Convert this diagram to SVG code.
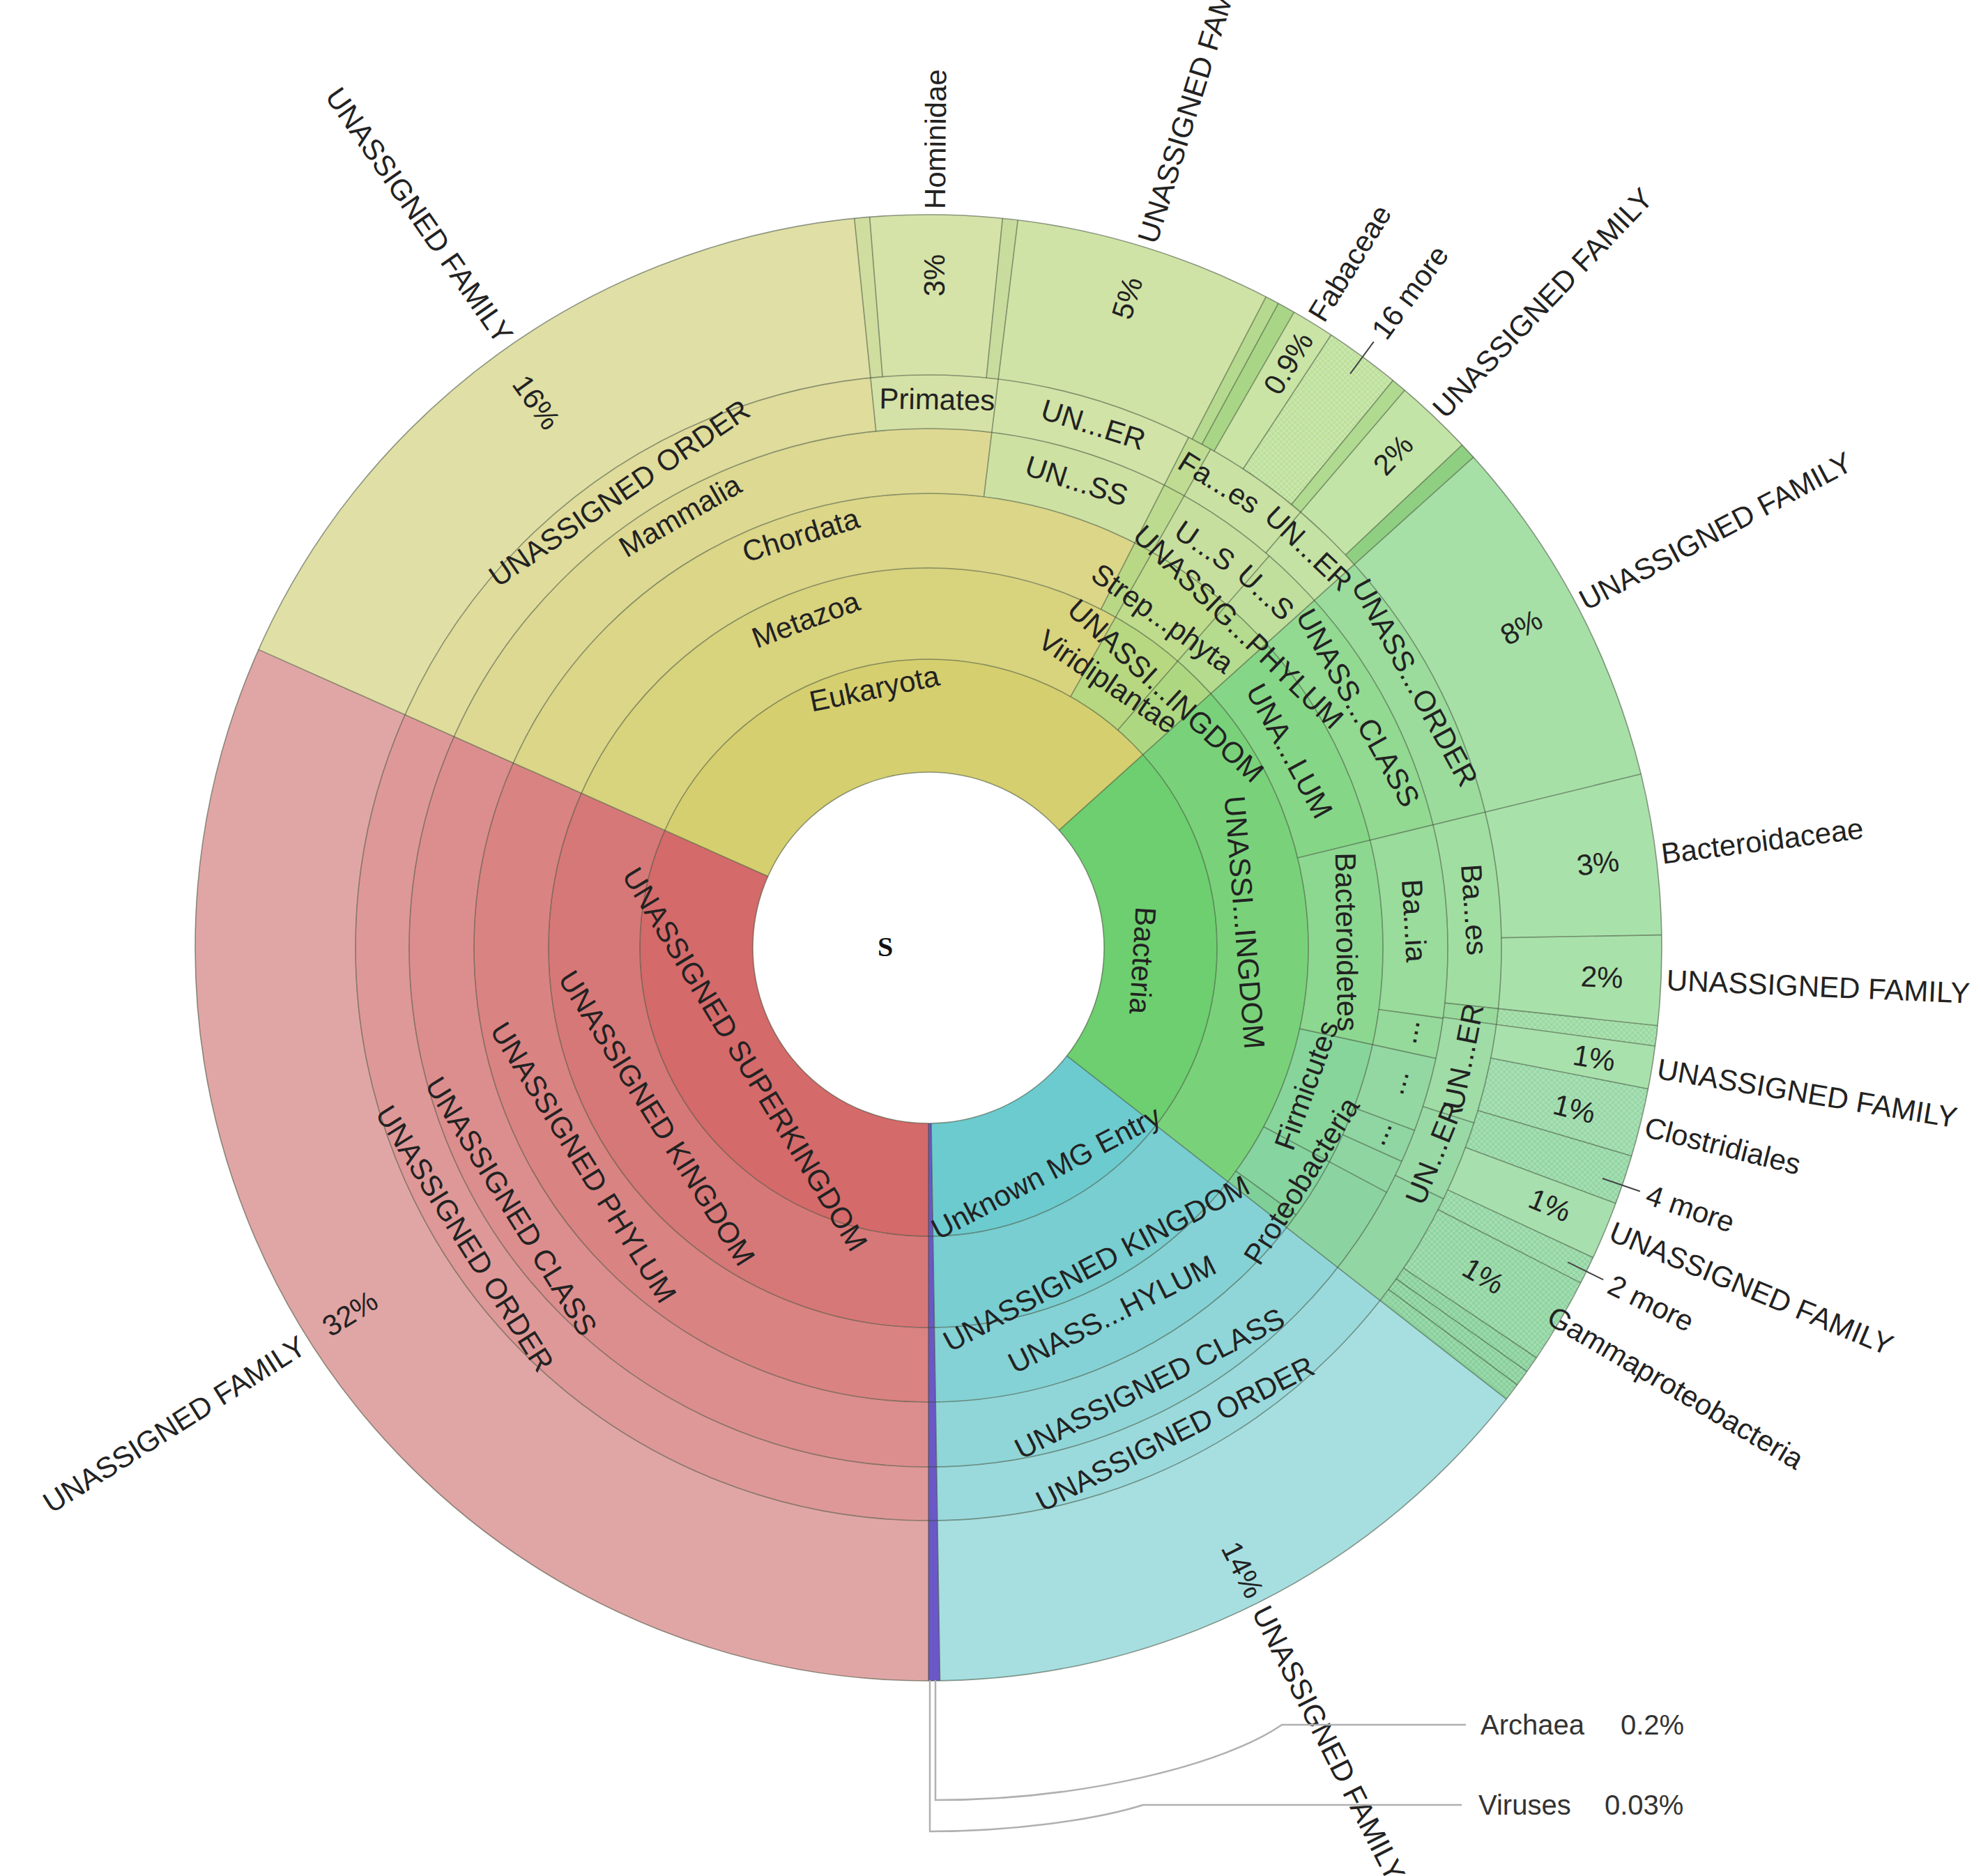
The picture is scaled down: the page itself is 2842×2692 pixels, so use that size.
<svg xmlns="http://www.w3.org/2000/svg" width="2842" height="2692" viewBox="0 0 2842 2692">
<defs>
<style>
.w{fill:none}
.rl{stroke:#3d4a35;stroke-opacity:.55;stroke-width:1.6;fill:none}
.t{font-family:"Liberation Sans",Arial,sans-serif;font-size:42px;fill:#222;text-anchor:middle;dominant-baseline:central}
.o{font-family:"Liberation Sans",Arial,sans-serif;font-size:42px;fill:#222;dominant-baseline:central}
.s{text-anchor:start}
.e{text-anchor:end}
.tick{stroke:#444;stroke-width:2}
.co{fill:none;stroke:#b0b0b0;stroke-width:2.5}
</style>
<pattern id="hatch" width="8" height="8" patternUnits="userSpaceOnUse">
<rect width="4" height="4" fill="#ffffff" fill-opacity="0.18"/>
<rect x="4" y="4" width="4" height="4" fill="#ffffff" fill-opacity="0.18"/>
</pattern>
</defs>
<rect width="2842" height="2692" fill="#ffffff"/>
<g transform="translate(1332,1360)">
<g id="wedges" transform="rotate(-90)">
<!-- ring1 -->
<g id="ring1" stroke-width="162">
<circle class="w" r="333" pathLength="360" stroke="#d46a6a" stroke-dasharray="114 246" stroke-dashoffset="-180"/>
<circle class="w" r="333" pathLength="360" stroke="#d5cf6f" stroke-dasharray="114 246" stroke-dashoffset="-294"/>
<circle class="w" r="333" pathLength="360" stroke="#6dcf6f" stroke-dasharray="80 280" stroke-dashoffset="-48"/>
<circle class="w" r="333" pathLength="360" stroke="#6ccbcf" stroke-dasharray="51.1 308.9" stroke-dashoffset="-128"/>
</g>
<g id="ring2" stroke-width="131">
<circle class="w" r="479.5" pathLength="360" stroke="#d77878" stroke-dasharray="114 246" stroke-dashoffset="-180"/>
<circle class="w" r="479.5" pathLength="360" stroke="#d8d37d" stroke-dasharray="95.5 264.5" stroke-dashoffset="-294"/>
<circle class="w" r="479.5" pathLength="360" stroke="#b7d880" stroke-dasharray="11.5 348.5" stroke-dashoffset="-29.5"/>
<circle class="w" r="479.5" pathLength="360" stroke="#aed781" stroke-dasharray="7 353" stroke-dashoffset="-41"/>
<circle class="w" r="479.5" pathLength="360" stroke="#79d27a" stroke-dasharray="80 280" stroke-dashoffset="-48"/>
<circle class="w" r="479.5" pathLength="360" stroke="#78ced1" stroke-dasharray="51.1 308.9" stroke-dashoffset="-128"/>
</g>
<g id="ring3" stroke-width="107">
<circle class="w" r="598.5" pathLength="360" stroke="#da8383" stroke-dasharray="114 246" stroke-dashoffset="-180"/>
<circle class="w" r="598.5" pathLength="360" stroke="#dbd688" stroke-dasharray="93 267" stroke-dashoffset="-294"/>
<circle class="w" r="598.5" pathLength="360" stroke="#b9d886" stroke-dasharray="2.5 357.5" stroke-dashoffset="-27"/>
<circle class="w" r="598.5" pathLength="360" stroke="#bfdc8d" stroke-dasharray="11.5 348.5" stroke-dashoffset="-29.5"/>
<circle class="w" r="598.5" pathLength="360" stroke="#b5db8e" stroke-dasharray="7 353" stroke-dashoffset="-41"/>
<circle class="w" r="598.5" pathLength="360" stroke="#86d687" stroke-dasharray="28.3 331.7" stroke-dashoffset="-48"/>
<circle class="w" r="598.5" pathLength="360" stroke="#8dd890" stroke-dasharray="26 334" stroke-dashoffset="-76.3"/>
<circle class="w" r="598.5" pathLength="360" stroke="#87d59b" stroke-dasharray="15.8 344.2" stroke-dashoffset="-102.3"/>
<circle class="w" r="598.5" pathLength="360" stroke="#86d4a0" stroke-dasharray="7.9 352.1" stroke-dashoffset="-118.1"/>
<circle class="w" r="598.5" pathLength="360" stroke="#7fcf98" stroke-dasharray="2 358" stroke-dashoffset="-126"/>
<circle class="w" r="598.5" pathLength="360" stroke="#84d2d5" stroke-dasharray="51.1 308.9" stroke-dashoffset="-128"/>
</g>
<g id="ring4" stroke-width="93">
<circle class="w" r="698.5" pathLength="360" stroke="#dc8e8e" stroke-dasharray="114 246" stroke-dashoffset="-180"/>
<circle class="w" r="698.5" pathLength="360" stroke="#ddd993" stroke-dasharray="73 287" stroke-dashoffset="-294"/>
<circle class="w" r="698.5" pathLength="360" stroke="#cde1a3" stroke-dasharray="20 340" stroke-dashoffset="-7"/>
<circle class="w" r="698.5" pathLength="360" stroke="#bcdb8e" stroke-dasharray="2.5 357.5" stroke-dashoffset="-27"/>
<circle class="w" r="698.5" pathLength="360" stroke="#c7df9e" stroke-dasharray="11.5 348.5" stroke-dashoffset="-29.5"/>
<circle class="w" r="698.5" pathLength="360" stroke="#c0df9d" stroke-dasharray="7 353" stroke-dashoffset="-41"/>
<circle class="w" r="698.5" pathLength="360" stroke="#92d992" stroke-dasharray="28.3 331.7" stroke-dashoffset="-48"/>
<circle class="w" r="698.5" pathLength="360" stroke="#99dc9b" stroke-dasharray="21.5 338.5" stroke-dashoffset="-76.3"/>
<circle class="w" r="698.5" pathLength="360" stroke="#95d99b" stroke-dasharray="4.5 355.5" stroke-dashoffset="-97.8"/>
<circle class="w" r="698.5" pathLength="360" stroke="#93d8a3" stroke-dasharray="8.3 351.7" stroke-dashoffset="-102.3"/>
<circle class="w" r="698.5" pathLength="360" stroke="#90d6a2" stroke-dasharray="3.7 356.3" stroke-dashoffset="-110.6"/>
<circle class="w" r="698.5" pathLength="360" stroke="#8ed5a2" stroke-dasharray="3.8 356.2" stroke-dashoffset="-114.3"/>
<circle class="w" r="698.5" pathLength="360" stroke="#8bd4a1" stroke-dasharray="9.9 350.1" stroke-dashoffset="-118.1"/>
<circle class="w" r="698.5" pathLength="360" stroke="#90d6d9" stroke-dasharray="51.1 308.9" stroke-dashoffset="-128"/>
</g>
<g id="ring5" stroke-width="77">
<circle class="w" r="783.5" pathLength="360" stroke="#de9898" stroke-dasharray="114 246" stroke-dashoffset="-180"/>
<circle class="w" r="783.5" pathLength="360" stroke="#dfdc9c" stroke-dasharray="60.2 299.8" stroke-dashoffset="-294"/>
<circle class="w" r="783.5" pathLength="360" stroke="#d4e2a7" stroke-dasharray="12.8 347.2" stroke-dashoffset="-354.2"/>
<circle class="w" r="783.5" pathLength="360" stroke="#d1e3a7" stroke-dasharray="20 340" stroke-dashoffset="-7"/>
<circle class="w" r="783.5" pathLength="360" stroke="#bfdc92" stroke-dasharray="2.5 357.5" stroke-dashoffset="-27"/>
<circle class="w" r="783.5" pathLength="360" stroke="#c9e2a3" stroke-dasharray="11 349" stroke-dashoffset="-29.5"/>
<circle class="w" r="783.5" pathLength="360" stroke="#c4e2a4" stroke-dasharray="7.5 352.5" stroke-dashoffset="-40.5"/>
<circle class="w" r="783.5" pathLength="360" stroke="#9bdc9c" stroke-dasharray="28.3 331.7" stroke-dashoffset="-48"/>
<circle class="w" r="783.5" pathLength="360" stroke="#a1dea2" stroke-dasharray="19.8 340.2" stroke-dashoffset="-76.3"/>
<circle class="w" r="783.5" pathLength="360" stroke="#98d99c" stroke-dasharray="1.6 358.4" stroke-dashoffset="-96.1"/>
<circle class="w" r="783.5" pathLength="360" stroke="#9fdca6" stroke-dasharray="10.1 349.9" stroke-dashoffset="-97.7"/>
<circle class="w" r="783.5" pathLength="360" stroke="#99d9a6" stroke-dasharray="8.2 351.8" stroke-dashoffset="-107.8"/>
<circle class="w" r="783.5" pathLength="360" stroke="#92d6a3" stroke-dasharray="12 348" stroke-dashoffset="-116"/>
<circle class="w" r="783.5" pathLength="360" stroke="#9adadc" stroke-dasharray="51.1 308.9" stroke-dashoffset="-128"/>
</g>
<g id="ring6" stroke-width="230">
<circle class="w" r="937" pathLength="360" stroke="#e0a6a6" stroke-dasharray="114 246" stroke-dashoffset="-180"/>
<circle class="w" r="937" pathLength="360" stroke="#e0dfa6" stroke-dasharray="60.2 299.8" stroke-dashoffset="-294"/>
<circle class="w" r="937" pathLength="360" stroke="#cfdd9f" stroke-dasharray="1.2 358.8" stroke-dashoffset="-354.2"/>
<circle class="w" r="937" pathLength="360" stroke="#d5e3a9" stroke-dasharray="10.4 349.6" stroke-dashoffset="-355.4"/>
<circle class="w" r="937" pathLength="360" stroke="#c8dc9e" stroke-dasharray="1.2 358.8" stroke-dashoffset="-5.8"/>
<circle class="w" r="937" pathLength="360" stroke="#d0e3a6" stroke-dasharray="20.4 339.6" stroke-dashoffset="-7"/>
<circle class="w" r="937" pathLength="360" stroke="#b5da8f" stroke-dasharray="1.1 358.9" stroke-dashoffset="-27.4"/>
<circle class="w" r="937" pathLength="360" stroke="#a8d686" stroke-dasharray="1.4 358.6" stroke-dashoffset="-28.5"/>
<circle class="w" r="937" pathLength="360" stroke="#cae4a6" stroke-dasharray="3.4 356.6" stroke-dashoffset="-29.9"/>
<circle class="w" r="937" pathLength="360" stroke="#bde09b" stroke-dasharray="6 354" stroke-dashoffset="-33.3"/>
<circle class="w" r="937" pathLength="360" stroke="#afda90" stroke-dasharray="1.2 358.8" stroke-dashoffset="-39.3"/>
<circle class="w" r="937" pathLength="360" stroke="#c3e4a7" stroke-dasharray="6.2 353.8" stroke-dashoffset="-40.5"/>
<circle class="w" r="937" pathLength="360" stroke="#8fcf82" stroke-dasharray="1.3 358.7" stroke-dashoffset="-46.7"/>
<circle class="w" r="937" pathLength="360" stroke="#a6e0a7" stroke-dasharray="28.3 331.7" stroke-dashoffset="-48"/>
<circle class="w" r="937" pathLength="360" stroke="#a9e1aa" stroke-dasharray="12.7 347.3" stroke-dashoffset="-76.3"/>
<circle class="w" r="937" pathLength="360" stroke="#a9e1ab" stroke-dasharray="7.1 352.9" stroke-dashoffset="-89"/>
<circle class="w" r="937" pathLength="360" stroke="#9ad9a0" stroke-dasharray="1.6 358.4" stroke-dashoffset="-96.1"/>
<circle class="w" r="937" pathLength="360" stroke="#a9e1ad" stroke-dasharray="3.4 356.6" stroke-dashoffset="-97.7"/>
<circle class="w" r="937" pathLength="360" stroke="#97d8a6" stroke-dasharray="5.4 354.6" stroke-dashoffset="-101.1"/>
<circle class="w" r="937" pathLength="360" stroke="#93d6a3" stroke-dasharray="3.9 356.1" stroke-dashoffset="-106.5"/>
<circle class="w" r="937" pathLength="360" stroke="#a7e0ae" stroke-dasharray="4.6 355.4" stroke-dashoffset="-110.4"/>
<circle class="w" r="937" pathLength="360" stroke="#92d5a2" stroke-dasharray="2.2 357.8" stroke-dashoffset="-115"/>
<circle class="w" r="937" pathLength="360" stroke="#8fd4a0" stroke-dasharray="6.8 353.2" stroke-dashoffset="-117.2"/>
<circle class="w" r="937" pathLength="360" stroke="#88d09b" stroke-dasharray="4 356" stroke-dashoffset="-124"/>
<circle class="w" r="937" pathLength="360" stroke="#a7dfe1" stroke-dasharray="51.1 308.9" stroke-dashoffset="-128"/>
</g>
<g id="hatched" stroke="url(#hatch)" stroke-width="230">
<circle class="w" r="937" pathLength="360" stroke-dasharray="6 354" stroke-dashoffset="-33.3"/>
<circle class="w" r="937" pathLength="360" stroke-dasharray="1.6 358.4" stroke-dashoffset="-96.1"/>
<circle class="w" r="937" pathLength="360" stroke-dasharray="9.3 350.7" stroke-dashoffset="-101.1"/>
<circle class="w" r="937" pathLength="360" stroke-dasharray="12.8 347.2" stroke-dashoffset="-115"/>
</g>
<g id="archaea-viruses">
<circle class="w" r="652" pathLength="360" stroke="#6a58c8" stroke-width="800" stroke-dasharray="0.9 359.1" stroke-dashoffset="-179.1"/>
</g>
</g>
<g id="connectors">
<g id="rings">
<circle class="rl" r="252"/><circle class="rl" r="414"/><circle class="rl" r="545"/><circle class="rl" r="652"/><circle class="rl" r="745"/><circle class="rl" r="822"/><circle class="rl" r="1052" stroke="#999"/>
</g>
<g id="radials" class="rl">
<line y1="-252" y2="-1052" transform="rotate(48)"/>
<line y1="-252" y2="-1052" transform="rotate(128)"/>
<line y1="-252" y2="-1052" transform="rotate(180)"/>
<line y1="-252" y2="-1052" transform="rotate(179.1)"/>
<line y1="-252" y2="-1052" transform="rotate(294)"/>
<line y1="-414" y2="-822" transform="rotate(29.5)"/>
<line y1="-414" y2="-745" transform="rotate(41)"/>
<line y1="-745" y2="-1052" transform="rotate(40.5)"/>
<line y1="-545" y2="-822" transform="rotate(27)"/>
<line y1="-822" y2="-1052" transform="rotate(27.4)"/>
<line y1="-822" y2="-1052" transform="rotate(28.5)"/>
<line y1="-822" y2="-1052" transform="rotate(29.9)"/>
<line y1="-822" y2="-1052" transform="rotate(33.3)"/>
<line y1="-822" y2="-1052" transform="rotate(39.3)"/>
<line y1="-822" y2="-1052" transform="rotate(46.7)"/>
<line y1="-652" y2="-1052" transform="rotate(7)"/>
<line y1="-745" y2="-1052" transform="rotate(354.2)"/>
<line y1="-822" y2="-1052" transform="rotate(355.4)"/>
<line y1="-822" y2="-1052" transform="rotate(5.8)"/>
<line y1="-545" y2="-1052" transform="rotate(76.3)"/>
<line y1="-545" y2="-745" transform="rotate(102.3)"/>
<line y1="-545" y2="-745" transform="rotate(118.1)"/>
<line y1="-545" y2="-652" transform="rotate(126)"/>
<line y1="-652" y2="-745" transform="rotate(97.8)"/>
<line y1="-652" y2="-745" transform="rotate(110.6)"/>
<line y1="-652" y2="-745" transform="rotate(114.3)"/>
<line y1="-745" y2="-1052" transform="rotate(96.1)"/>
<line y1="-745" y2="-1052" transform="rotate(97.7)"/>
<line y1="-745" y2="-822" transform="rotate(107.8)"/>
<line y1="-745" y2="-822" transform="rotate(116)"/>
<line y1="-822" y2="-1052" transform="rotate(89)"/>
<line y1="-822" y2="-1052" transform="rotate(101.1)"/>
<line y1="-822" y2="-1052" transform="rotate(106.5)"/>
<line y1="-822" y2="-1052" transform="rotate(110.4)"/>
<line y1="-822" y2="-1052" transform="rotate(115)"/>
<line y1="-822" y2="-1052" transform="rotate(117.2)"/>
<line y1="-822" y2="-1052" transform="rotate(124)"/>
<line y1="-822" y2="-1052" transform="rotate(125.3)"/>
<line y1="-822" y2="-1052" transform="rotate(126.6)"/>
</g>
<g id="ticks">
<line class="tick" y1="-1022" y2="-1079" transform="rotate(36.3)"/>
<line class="tick" y1="-1022" y2="-1079" transform="rotate(108.9)"/>
<line class="tick" y1="-1022" y2="-1079" transform="rotate(116.2)"/>
</g>
</g>
<g id="labels">
<g id="n-unassigned-superkingdom"><text class="t" transform="rotate(238.7) translate(0,-308) rotate(180)">UNASSIGNED SUPERKINGDOM</text></g>
<g id="n-eukaryota"><text class="t" transform="rotate(348.2) translate(0,-380)">Eukaryota</text></g>
<g id="n-bacteria"><text class="t" transform="rotate(93.4) translate(0,-308)">Bacteria</text></g>
<g id="n-unknown"><text class="t" transform="rotate(152.4) translate(0,-364) rotate(180)">Unknown MG Entry</text></g>
<g id="n-red-k"><text class="t" transform="rotate(237.9) translate(0,-460) rotate(180)">UNASSIGNED KINGDOM</text></g>
<g id="n-red-p"><text class="t" transform="rotate(238.1) translate(0,-583) rotate(180)">UNASSIGNED PHYLUM</text></g>
<g id="n-red-c"><text class="t" transform="rotate(238.2) translate(0,-704) rotate(180)">UNASSIGNED CLASS</text></g>
<g id="n-red-o"><text class="t" transform="rotate(237.9) translate(0,-785) rotate(180)">UNASSIGNED ORDER</text></g>
<g id="n-red-f"><text class="t" transform="rotate(237.7) translate(0,-982) rotate(90)">32%</text><text class="o e" transform="rotate(237.7) translate(0,-1062) rotate(90)">UNASSIGNED FAMILY</text></g>
<g id="n-metazoa"><text class="t" transform="rotate(339.5) translate(0,-503)">Metazoa</text></g>
<g id="n-chordata"><text class="t" transform="rotate(342.8) translate(0,-620)">Chordata</text></g>
<g id="n-mammalia"><text class="t" transform="rotate(330.1) translate(0,-715)">Mammalia</text></g>
<g id="n-yel-o"><text class="t" transform="rotate(325.8) translate(0,-789)">UNASSIGNED ORDER</text></g>
<g id="n-yel-f"><text class="t" transform="rotate(324.3) translate(0,-964) rotate(90)">16%</text><text class="o e" transform="rotate(325.2) translate(0,-1062) rotate(90)">UNASSIGNED FAMILY</text></g>
<g id="n-primates"><text class="t" transform="rotate(0.9) translate(0,-787)">Primates</text></g>
<g id="n-hominidae"><text class="t" transform="rotate(0.5) translate(0,-965) rotate(-90)">3%</text><text class="o s" transform="rotate(0.5) translate(0,-1060) rotate(-90)">Hominidae</text></g>
<g id="n-unss"><text class="t" transform="rotate(17.6) translate(0,-703)">UN...SS</text></g>
<g id="n-uner1"><text class="t" transform="rotate(17.5) translate(0,-787)">UN...ER</text></g>
<g id="n-f5"><text class="t" transform="rotate(17) translate(0,-975) rotate(-90)">5%</text><text class="o s" transform="rotate(17.2) translate(0,-1060) rotate(-90)">UNASSIGNED FAMILY</text></g>
<g id="n-fabales"><text class="t" transform="rotate(32) translate(0,-787)">Fa...es</text></g>
<g id="n-fabaceae"><text class="t" transform="rotate(31.6) translate(0,-985) rotate(-90)">0.9%</text><text class="o s" transform="rotate(31.6) translate(0,-1060) rotate(-90)">Fabaceae</text></g>
<g id="n-16more"><text class="o s" transform="rotate(36.3) translate(0,-1090) rotate(-90)">16 more</text></g>
<g id="n-us1"><text class="t" transform="rotate(34.5) translate(0,-700)">U...S</text></g>
<g id="n-us2"><text class="t" transform="rotate(43.5) translate(0,-703)">U...S</text></g>
<g id="n-uner2"><text class="t" transform="rotate(43.6) translate(0,-791)">UN...ER</text></g>
<g id="n-f2"><text class="t" transform="rotate(43.3) translate(0,-972) rotate(-90)">2%</text><text class="o s" transform="rotate(43.6) translate(0,-1060) rotate(-90)">UNASSIGNED FAMILY</text></g>
<g id="n-unassig-phylum"><text class="t" transform="rotate(44) translate(0,-640)">UNASSIG...PHYLUM</text></g>
<g id="n-strep"><text class="t" transform="rotate(35.4) translate(0,-580)">Strep...phyta</text></g>
<g id="n-euk-uk"><text class="t" transform="rotate(42.7) translate(0,-502)">UNASSI...INGDOM</text></g>
<g id="n-viridiplantae"><text class="t" transform="rotate(34) translate(0,-461)">Viridiplantae</text></g>
<g id="n-bac-uk"><text class="t" transform="rotate(85.4) translate(0,-455)">UNASSI...INGDOM</text></g>
<g id="n-una-lum"><text class="t" transform="rotate(61.4) translate(0,-590)">UNA...LUM</text></g>
<g id="n-unass-class"><text class="t" transform="rotate(60.8) translate(0,-706)">UNASS...CLASS</text></g>
<g id="n-unass-order"><text class="t" transform="rotate(61.4) translate(0,-795)">UNASS...ORDER</text></g>
<g id="n-f8"><text class="t" transform="rotate(61.6) translate(0,-967) rotate(-90)">8%</text><text class="o s" transform="rotate(62.1) translate(0,-1060) rotate(-90)">UNASSIGNED FAMILY</text></g>
<g id="n-bacteroidetes"><text class="t" transform="rotate(89.2) translate(0,-600)">Bacteroidetes</text></g>
<g id="n-baia"><text class="t" transform="rotate(86.8) translate(0,-698)">Ba...ia</text></g>
<g id="n-baes"><text class="t" transform="rotate(86) translate(0,-785)">Ba...es</text></g>
<g id="n-bacteroidaceae"><text class="t" transform="rotate(82.8) translate(0,-968) rotate(-90)">3%</text><text class="o s" transform="rotate(82.7) translate(0,-1060) rotate(-90)">Bacteroidaceae</text></g>
<g id="n-f2b"><text class="t" transform="rotate(92.5) translate(0,-967) rotate(-90)">2%</text><text class="o s" transform="rotate(92.5) translate(0,-1060) rotate(-90)">UNASSIGNED FAMILY</text></g>
<g id="n-f1a"><text class="t" transform="rotate(99.4) translate(0,-968) rotate(-90)">1%</text><text class="o s" transform="rotate(99.4) translate(0,-1060) rotate(-90)">UNASSIGNED FAMILY</text></g>
<g id="n-clostridiales"><text class="t" transform="rotate(104) translate(0,-955) rotate(-90)">1%</text><text class="o s" transform="rotate(104) translate(0,-1060) rotate(-90)">Clostridiales</text></g>
<g id="n-4more"><text class="o s" transform="rotate(108.9) translate(0,-1090) rotate(-90)">4 more</text></g>
<g id="n-f1b"><text class="t" transform="rotate(112.5) translate(0,-965) rotate(-90)">1%</text><text class="o s" transform="rotate(112.5) translate(0,-1060) rotate(-90)">UNASSIGNED FAMILY</text></g>
<g id="n-2more"><text class="o s" transform="rotate(116.2) translate(0,-1090) rotate(-90)">2 more</text></g>
<g id="n-gamma"><text class="t" transform="rotate(120.6) translate(0,-925) rotate(-90)">1%</text><text class="o s" transform="rotate(120.5) translate(0,-1035) rotate(-90)">Gammaproteobacteria</text></g>
<g id="n-dots"><text class="t" transform="rotate(99.9) translate(0,-698) rotate(180)">...</text><text class="t" transform="rotate(106) translate(0,-698) rotate(180)">...</text><text class="t" transform="rotate(112.3) translate(0,-698) rotate(180)">...</text></g>
<g id="n-uner3"><text class="t" transform="rotate(101.5) translate(0,-783) rotate(180)">UN...ER</text></g>
<g id="n-uner4"><text class="t" transform="rotate(112.1) translate(0,-783) rotate(180)">UN...ER</text></g>
<g id="n-firmicutes"><text class="t" transform="rotate(110) translate(0,-577) rotate(180)">Firmicutes</text></g>
<g id="n-proteobacteria"><text class="t" transform="rotate(122) translate(0,-631) rotate(180)">Proteobacteria</text></g>
<g id="n-cyan-k"><text class="t" transform="rotate(152) translate(0,-513) rotate(180)">UNASSIGNED KINGDOM</text></g>
<g id="n-cyan-p"><text class="t" transform="rotate(153.4) translate(0,-588) rotate(180)">UNASS...HYLUM</text></g>
<g id="n-cyan-c"><text class="t" transform="rotate(153.1) translate(0,-701) rotate(180)">UNASSIGNED CLASS</text></g>
<g id="n-cyan-o"><text class="t" transform="rotate(153.1) translate(0,-782) rotate(180)">UNASSIGNED ORDER</text></g>
<g id="n-cyan-f"><text class="t" transform="rotate(153.2) translate(0,-1000) rotate(-90)">14%</text><text class="o s" transform="rotate(153.3) translate(0,-1060) rotate(-90)">UNASSIGNED FAMILY</text></g>
</g>
</g>
<g id="center"><text x="1270" y="1358" font-family="'Liberation Serif',serif" font-weight="bold" font-size="40" fill="#111" text-anchor="middle" dominant-baseline="central">S</text></g>
<g id="callouts">
<path class="co" d="M1342,2411 V2583 C1560,2583 1760,2530 1839,2475 H2103"/>
<path class="co" d="M1334,2411 V2628 C1450,2628 1570,2612 1640,2590 H2097"/>
</g>
<g id="n-archaea"><text x="2124" y="2475" font-family="'Liberation Sans',Arial,sans-serif" font-size="40" fill="#333" dominant-baseline="central">Archaea</text><text x="2325" y="2475" font-family="'Liberation Sans',Arial,sans-serif" font-size="40" fill="#333" dominant-baseline="central">0.2%</text></g>
<g id="n-viruses"><text x="2121" y="2590" font-family="'Liberation Sans',Arial,sans-serif" font-size="40" fill="#333" dominant-baseline="central">Viruses</text><text x="2302" y="2590" font-family="'Liberation Sans',Arial,sans-serif" font-size="40" fill="#333" dominant-baseline="central">0.03%</text></g>
</svg>
